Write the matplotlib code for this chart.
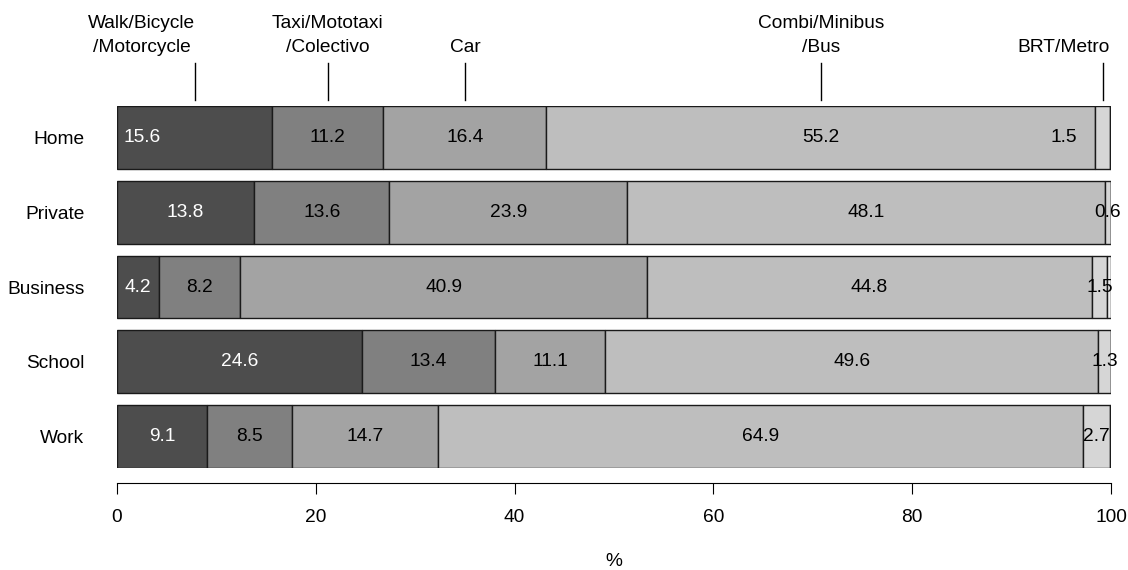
import matplotlib
matplotlib.use("Agg")
import matplotlib.pyplot as plt
import matplotlib.transforms as mtransforms
import numpy as np

plt.rcParams['font.family'] = ['Liberation Sans', 'DejaVu Sans']

# Trip purpose (rows, top to bottom) and mode shares in percent
purposes = ["Home", "Private", "Business", "School", "Work"]
modes = ["Walk/Bicycle\n/Motorcycle", "Taxi/Mototaxi\n/Colectivo", "Car",
         "Combi/Minibus\n/Bus", "BRT/Metro"]
walk = [15.6, 13.8, 4.2, 24.6, 9.1]
taxi = [11.2, 13.6, 8.2, 13.4, 8.5]
car = [16.4, 23.9, 40.9, 11.1, 14.7]
bus = [55.2, 48.1, 44.8, 49.6, 64.9]
brt = [1.5, 0.6, 1.5, 1.3, 2.7]
other = [0.1, 0.0, 0.4, 0.0, 0.1]

series = [walk, taxi, car, bus, brt, other]
fills = ["#4d4d4d", "#808080", "#a3a3a3", "#bebebe", "#d6d6d6", "#eeeeee"]
text_colors = ["white", "black", "black", "black", "black", None]

W, H = 1128, 570
fig = plt.figure(figsize=(W / 100, H / 100), dpi=100)
left_px, right_px, top_px, bot_px = 117, 1111, 106, 468
ax = fig.add_axes([left_px / W, 1 - bot_px / H,
                   (right_px - left_px) / W, (bot_px - top_px) / H])

fs = 13.8
bar_h = 0.84
y = np.arange(len(purposes))
cum = np.zeros(len(purposes))
mids = []
for vals, fc in zip(series, fills):
    vals = np.asarray(vals, dtype=float)
    ax.barh(y, vals, left=cum, height=bar_h, color=fc,
            edgecolor="#1a1a1a", linewidth=1.0)
    mids.append(cum + vals / 2)
    cum = cum + vals

# Top row text is pushed inward at both ends to leave room for the header lines
top_row_text_x = {0: 2.5, 4: 95.2}

for k, (vals, tc) in enumerate(zip(series, text_colors)):
    if tc is None:
        continue
    for i, v in enumerate(vals):
        x = mids[k][i]
        if i == 0 and k in top_row_text_x:
            x = top_row_text_x[k]
        ax.text(x, y[i], f"{v:.1f}", ha="center", va="center",
                color=tc, fontsize=fs)

# Header labels with leader lines to the top bar
trans = mtransforms.blended_transform_factory(ax.transData, fig.transFigure)
for k, name in enumerate(modes):
    xm = mids[k][0]
    xt = top_row_text_x.get(k, xm)
    lines = name.split("\n")
    if len(lines) == 2:
        ax.text(xt, 1 - 23 / H, lines[0], transform=trans, ha="center",
                va="center", fontsize=fs)
        ax.text(xt, 1 - 47 / H, lines[1], transform=trans, ha="center",
                va="center", fontsize=fs)
    else:
        ax.text(xt, 1 - 47 / H, lines[0], transform=trans, ha="center",
                va="center", fontsize=fs)
    ax.plot([xm, xm], [1 - 63 / H, 1 - 100 / H], transform=trans,
            color="black", linewidth=1.0, clip_on=False)

ax.set_xlim(0, 100)
ax.set_ylim(len(purposes) - 1 + bar_h / 2, -bar_h / 2)
ax.set_yticks(y)
ax.set_yticklabels(purposes, fontsize=fs)
ax.tick_params(axis="y", length=0, pad=23.5)

ax.set_xticks([0, 20, 40, 60, 80, 100])
ax.tick_params(axis="x", length=7.9, width=0.8, pad=10.5, labelsize=fs,
               direction="out")
for s in ["top", "right", "left"]:
    ax.spines[s].set_visible(False)
ax.spines["bottom"].set_position(("outward", 10.8))
ax.spines["bottom"].set_linewidth(0.8)

fig.text((left_px + right_px) / 2 / W, 1 - 562 / H, "%", ha="center",
         va="center", fontsize=fs)

fig.savefig("out.png", dpi=100)
